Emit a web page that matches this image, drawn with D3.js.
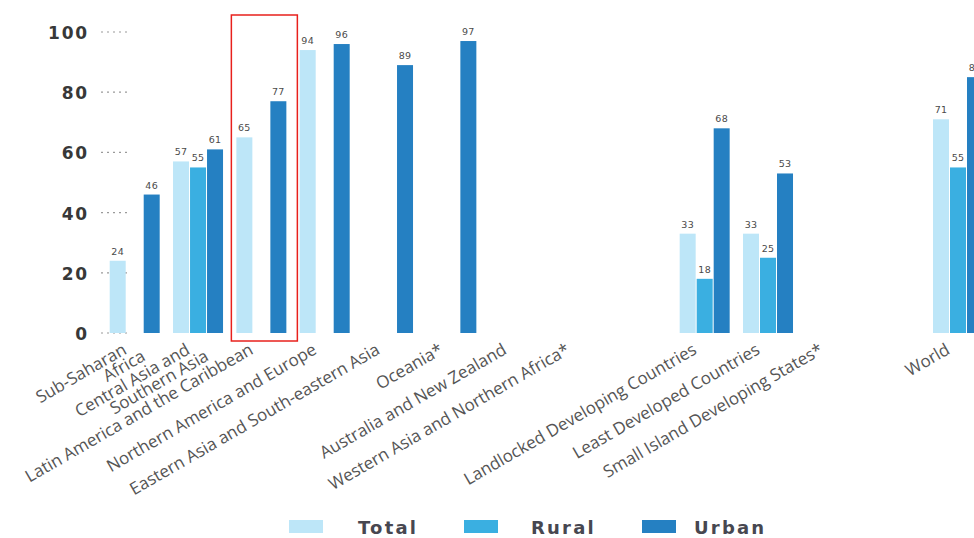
<!DOCTYPE html>
<html><head><meta charset="utf-8">
<script src="https://cdn.jsdelivr.net/npm/d3@7"></script>
<style>body{margin:0;background:#fff}svg{display:block}</style>
</head><body>
<svg id="c" width="974" height="538"></svg>
<script>
// ---- data ----
const categories = [
  "Sub-Saharan\nAfrica",
  "Central Asia and\nSouthern Asia",
  "Latin America and the Caribbean",
  "Northern America and Europe",
  "Eastern Asia and South-eastern Asia",
  "Oceania*",
  "Australia and New Zealand",
  "Western Asia and Northern Africa*",
  "",
  "Landlocked Developing Countries",
  "Least Developed Countries",
  "Small Island Developing States*",
  "",
  "World"
];
const totalValues = [24, 57, 65, 94, null, null, null, null, null, 33, 33, null, null, 71];
const ruralValues = [null, 55, null, null, null, null, null, null, null, 18, 25, null, null, 55];
const urbanValues = [46, 61, 77, 96, 89, 97, null, null, null, 68, 53, null, null, 85];
const seriesNames = ["Total", "Rural", "Urban"];
const seriesColors = ["#bde6f8", "#3aafe1", "#2580c2"];
const yTicks = [0, 20, 40, 60, 80, 100];
const highlightIndex = 2;

// ---- scales ----
const svg = d3.select("#c");
const x = d3.scaleBand().domain(d3.range(categories.length))
  .range([109.7, 983]).paddingInner(0.2105).paddingOuter(0);
const xi = d3.scaleBand().domain(seriesNames).range([0, x.bandwidth()]).paddingInner(1/17);
const y = d3.scaleLinear().domain([0, 100]).range([333, 32]);
const color = d3.scaleOrdinal().domain(seriesNames).range(seriesColors);

// ---- y axis (labels + short dotted guides) ----
const yAxis = d3.axisLeft(y).tickValues(yTicks).tickSize(0).tickPadding(0);
const gy = svg.append("g").attr("transform", "translate(89,0)").call(yAxis);
gy.select(".domain").remove();
gy.selectAll("text")
  .attr("font-family", "DejaVu Sans").attr("font-weight", "bold")
  .attr("font-size", 17).attr("letter-spacing", 1.8).attr("fill", "#383838")
  .attr("dy", "0.38em");
svg.append("g").selectAll("line").data(yTicks).join("line")
  .attr("x1", 101).attr("x2", 127)
  .attr("y1", d => y(d)).attr("y2", d => y(d))
  .attr("stroke", "#9a9a9a").attr("stroke-width", 1.2).attr("stroke-dasharray", "2,4");

// ---- bars ----
const rows = categories.map((c, i) => ({
  i,
  vals: [
    {k: "Total", v: totalValues[i]},
    {k: "Rural", v: ruralValues[i]},
    {k: "Urban", v: urbanValues[i]}
  ].filter(d => d.v != null)
}));
const groups = svg.append("g").selectAll("g").data(rows).join("g")
  .attr("transform", d => `translate(${x(d.i)},0)`);
groups.selectAll("rect").data(d => d.vals).join("rect")
  .attr("x", d => xi(d.k)).attr("width", xi.bandwidth())
  .attr("y", d => y(d.v)).attr("height", d => y(0) - y(d.v))
  .attr("fill", d => color(d.k));
groups.selectAll("text").data(d => d.vals).join("text")
  .attr("x", d => xi(d.k) + xi.bandwidth() / 2)
  .attr("y", d => y(d.v) - 6)
  .attr("text-anchor", "middle")
  .attr("font-family", "DejaVu Sans").attr("font-size", 9.5)
  .attr("letter-spacing", 0.3).attr("fill", "#4a4a4a")
  .text(d => d.v);

// ---- highlight box ----
svg.append("rect")
  .attr("x", x(highlightIndex) - 5).attr("y", 15)
  .attr("width", x.bandwidth() + 16).attr("height", y(0) + 8 - 15)
  .attr("fill", "none").attr("stroke", "#e8201c").attr("stroke-width", 1.5);

// ---- x labels ----
const xl = svg.append("g");
categories.forEach((c, i) => {
  if (!c) return;
  const lines = c.split("\n");
  const cx = x(i) + x.bandwidth() / 2 - 7;
  const t = xl.append("text")
    .attr("transform", `translate(${cx},353) rotate(-30)`)
    .attr("text-anchor", "end")
    .attr("font-family", "Open Sans").attr("font-size", 17)
    .attr("fill", "#555");
  lines.forEach((ln, j) => {
    t.append("tspan").attr("x", j * 13).attr("y", j * 15).text(ln);
  });
});

// ---- legend ----
const legendSwatchX = [289, 464, 642];
const legendTextX = [358, 531, 694];
const lg = svg.append("g").selectAll("g").data(seriesNames).join("g");
lg.append("rect")
  .attr("x", (d, i) => legendSwatchX[i]).attr("y", 520)
  .attr("width", 34).attr("height", 13).attr("fill", d => color(d));
lg.append("text")
  .attr("x", (d, i) => legendTextX[i]).attr("y", 534)
  .attr("font-family", "DejaVu Sans").attr("font-weight", 600)
  .attr("font-size", 18).attr("letter-spacing", 2.2).attr("fill", "#474750")
  .text(d => d);
</script>
</body></html>
